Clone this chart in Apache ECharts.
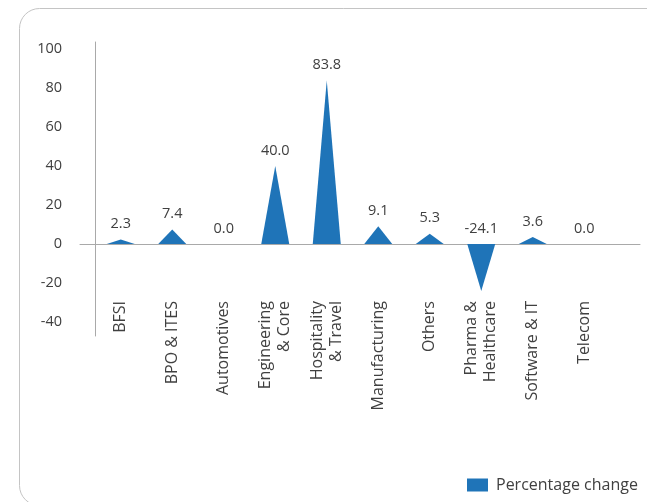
<!DOCTYPE html>
<html>
<head>
<meta charset="utf-8">
<script src="https://cdn.jsdelivr.net/npm/echarts@6/dist/echarts.min.js"></script>
<style>html,body{margin:0;padding:0;background:#fff}#c{width:647px;height:502px}</style>
</head>
<body>
<div id="c"></div>
<script>
const categories = ['BFSI', 'BPO & ITES', 'Automotives', 'Engineering\n& Core', 'Hospitality\n& Travel', 'Manufacturing', 'Others', 'Pharma &\nHealthcare', 'Software & IT', 'Telecom'];
const percentageChange = [2.3, 7.4, 0.0, 40.0, 83.8, 9.1, 5.3, -24.1, 3.6, 0.0];
const seriesName = 'Percentage change';
const yMin = -40, yMax = 100, yStep = 20;

const font = '"Open Sans", "Noto Sans", sans-serif';
const txt = '#404040';
const blue = '#1f74b8';
const axisGrey = '#a9a9a9';

const chart = echarts.init(document.getElementById('c'), null, {renderer: 'canvas'});
chart.setOption({
  animation: false,
  backgroundColor: '#fff',
  textStyle: {fontFamily: font},
  graphic: [{
    type: 'rect',
    silent: true,
    shape: {x: 19.5, y: 8.5, width: 720, height: 497, r: 20},
    style: {fill: 'none', stroke: '#c4c4c4', lineWidth: 1}
  }],
  grid: [
    {left: 80, right: 7, top: 42, bottom: 166},
    {left: 95, right: 37, top: 49, bottom: 180}
  ],
  xAxis: [
    {gridIndex: 0, type: 'value', min: -15, max: 545, show: true,
      axisLine: {show: true, onZero: true, lineStyle: {color: axisGrey, width: 1}},
      axisTick: {show: false}, axisLabel: {show: false}, splitLine: {show: false}},
    {gridIndex: 1, type: 'category', data: categories,
      axisLine: {show: false, onZero: false}, axisTick: {show: false},
      axisLabel: {rotate: 90, margin: -21, interval: 0, color: txt, fontSize: 16, fontFamily: font, lineHeight: 19}}
  ],
  yAxis: [
    {gridIndex: 0, type: 'value', min: -47, max: 103.6,
      axisLine: {show: true, onZero: true, lineStyle: {color: axisGrey, width: 1}},
      axisTick: {show: false}, axisLabel: {show: false}, splitLine: {show: false}},
    {gridIndex: 1, type: 'value', min: yMin, max: yMax, interval: yStep,
      axisLine: {show: false}, axisTick: {show: false}, splitLine: {show: false},
      axisLabel: {color: txt, fontSize: 14.5, fontFamily: font, margin: 33}}
  ],
  legend: {
    data: [{name: seriesName, icon: 'rect'}],
    left: 462, top: 472, itemWidth: 21, itemHeight: 13,
    textStyle: {color: txt, fontSize: 16, fontFamily: font, padding: [0, 0, 0, 3]}
  },
  series: [{
    name: seriesName,
    type: 'pictorialBar',
    xAxisIndex: 1, yAxisIndex: 1,
    symbol: 'triangle',
    symbolSize: [28, '100%'],
    barCategoryGap: '0%',
    itemStyle: {color: blue},
    label: {show: true, position: 'top', distance: 8, color: txt, fontSize: 14.5, fontFamily: font,
      formatter: p => p.value.toFixed(1)},
    data: percentageChange
  }]
});
</script>
</body>
</html>
